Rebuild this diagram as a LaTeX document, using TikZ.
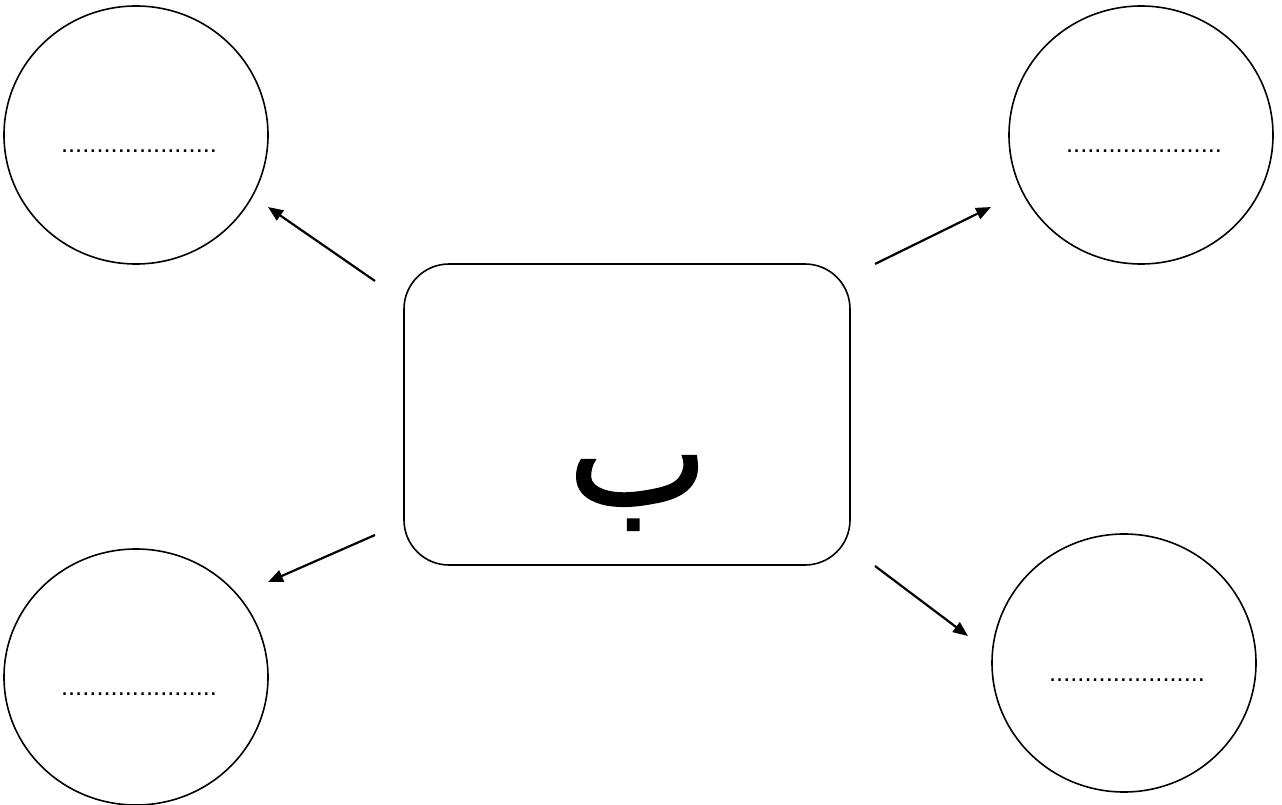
\documentclass[tikz,border=0pt]{standalone}
\usepackage{fontspec}
\setmainfont{Liberation Sans}
\newfontfamily\arabicfont[Script=Arabic,FakeBold=1.2]{DejaVu Sans}
\TeXXeTstate=1
\usetikzlibrary{arrows.meta}
\begin{document}
\begin{tikzpicture}[x=1pt,y=-1pt,
  dotstxt/.style={font=\fontsize{25.5}{28}\selectfont},
  conn/.style={line width=2.2pt,-{Triangle[length=15pt,width=12pt]}}]
\useasboundingbox (0,0) rectangle (1282,805);
\draw[line width=1.6pt,rounded corners=45pt] (404,264) rectangle (850,565);
\node (letter) at (638,493) {\fontsize{150}{160}\selectfont\arabicfont\beginR ب\endR};
\draw[line width=1.6pt] (136,135) ellipse [x radius=132, y radius=129];
\draw[line width=1.6pt] (1141,135) ellipse [x radius=132, y radius=129];
\draw[line width=1.6pt] (136,677) ellipse [x radius=132, y radius=128];
\draw[line width=1.6pt] (1124,663) ellipse [x radius=132, y radius=129];
\node[dotstxt,anchor=base] (t1) at (139,153) {......................};
\node[dotstxt,anchor=base] (t2) at (1144,153) {......................};
\node[dotstxt,anchor=base] (t3) at (139,695) {......................};
\node[dotstxt,anchor=base] (t4) at (1127,681) {......................};
\coordinate (a1s) at (375,281); \coordinate (a1e) at (268,207);
\coordinate (a2s) at (875,264); \coordinate (a2e) at (991,207);
\coordinate (a3s) at (375,535); \coordinate (a3e) at (268,582);
\coordinate (a4s) at (875,566); \coordinate (a4e) at (968,636);
\draw[conn] (a1s) -- (a1e);
\draw[conn] (a2s) -- (a2e);
\draw[conn] (a3s) -- (a3e);
\draw[conn] (a4s) -- (a4e);
\end{tikzpicture}
\end{document}
